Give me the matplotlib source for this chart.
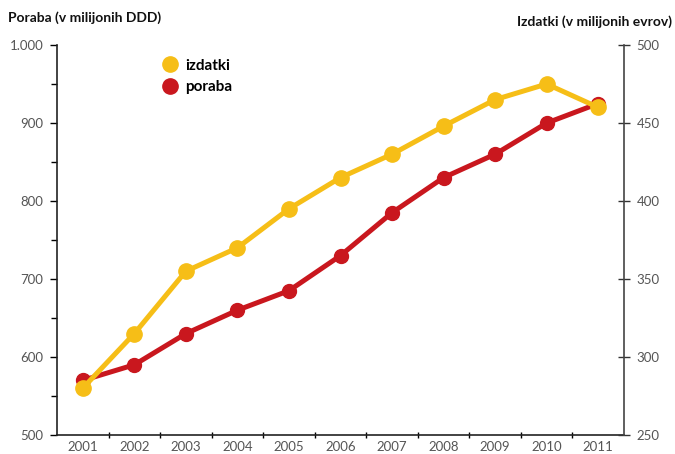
import matplotlib.pyplot as plt
from matplotlib.ticker import FuncFormatter, MultipleLocator

years = [2001, 2002, 2003, 2004, 2005, 2006, 2007, 2008, 2009, 2010, 2011]
poraba = [570, 590, 630, 660, 685, 730, 785, 830, 860, 900, 925]
izdatki = [280, 315, 355, 370, 395, 415, 430, 448, 465, 475, 460]

yellow = '#F6BE17'
red = '#C9171E'
grey = '#555555'

plt.rcParams['font.family'] = ['Lato', 'DejaVu Sans']

fig = plt.figure(figsize=(6.75, 4.54), dpi=100)
ax = fig.add_axes([57 / 675, 19 / 454, 567 / 675, 390 / 454])
ax2 = ax.twinx()

ax.plot(years, poraba, color=red, lw=3.6, marker='o', ms=10, label='poraba')
ax2.plot(years, izdatki, color=yellow, lw=3.6, marker='o', ms=11, label='izdatki')

ax.set_xlim(2000.5, 2011.5)
ax.set_ylim(500, 1000)
ax2.set_ylim(250, 500)

ax.set_xticks(years)
ax.set_xticks([y + 0.5 for y in years[:-1]], minor=True)
ax.tick_params(axis='x', which='major', length=0, pad=4, labelsize=9.5, labelcolor=grey)
ax.tick_params(axis='x', which='minor', length=4, direction='inout', width=1)

ax.yaxis.set_major_locator(MultipleLocator(100))
ax.yaxis.set_minor_locator(MultipleLocator(50))
ax.yaxis.set_major_formatter(FuncFormatter(lambda v, p: f'{int(v):,}'.replace(',', '.')))
ax.tick_params(axis='y', which='major', length=5, width=1, pad=5, labelsize=9.5, labelcolor=grey)
ax.tick_params(axis='y', which='minor', length=4, width=1)

ax2.yaxis.set_major_locator(MultipleLocator(50))
ax2.tick_params(axis='y', which='major', length=8, direction='inout', width=1, pad=5,
                labelsize=9.5, colors='#333333')
ax2.tick_params(axis='y', labelcolor=grey)

for a in (ax, ax2):
    a.spines['top'].set_visible(False)
    for s in a.spines.values():
        s.set_linewidth(1.2)
        s.set_color('#222222')
ax.spines['right'].set_visible(False)
ax2.spines['left'].set_visible(False)
ax2.spines['bottom'].set_visible(False)
ax2.spines['right'].set_color('#444444')

fig.text(8 / 675, 1 - 18 / 454, 'Poraba (v milijonih DDD)', fontsize=10, fontweight='bold',
         color='#111111', va='center', ha='left')
fig.text(672 / 675, 1 - 22 / 454, 'Izdatki (v milijonih evrov)', fontsize=10, fontweight='bold',
         color='#111111', va='center', ha='right')

h1, l1 = ax2.get_legend_handles_labels()
h2, l2 = ax.get_legend_handles_labels()
leg = ax2.legend(h1 + h2, l1 + l2, loc='upper left', bbox_to_anchor=(0.175, 1.0),
                 frameon=False, handlelength=0, handletextpad=1.0, labelspacing=0.5,
                 prop={'weight': 'bold', 'size': 11})
for h in leg.legend_handles:
    h.set_markersize(11)

fig.savefig('out.png', dpi=100)
